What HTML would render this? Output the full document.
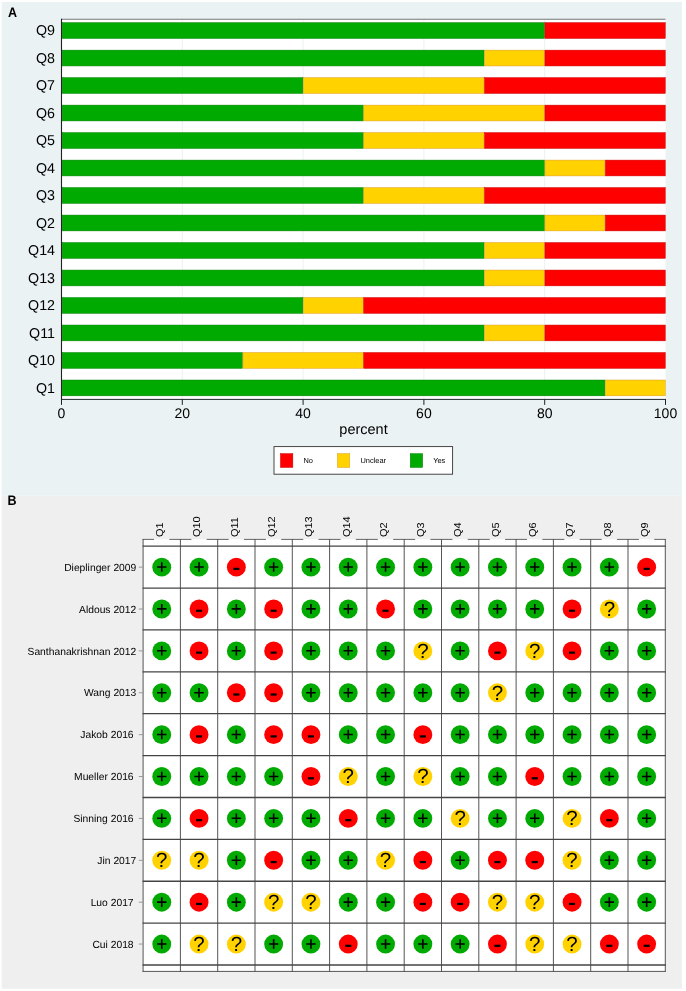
<!DOCTYPE html><html><head><meta charset="utf-8"><title>Figure</title>
<style>html,body{margin:0;padding:0;background:#fff;}body{width:686px;height:991px;overflow:hidden;font-family:"Liberation Sans",sans-serif;}svg{display:block;will-change:transform;}text{font-family:"Liberation Sans",sans-serif;text-rendering:geometricPrecision;}</style></head><body>
<svg width="686" height="991" viewBox="0 0 686 991">
<rect x="0" y="0" width="686" height="991" fill="#ffffff"/>
<rect x="1.7" y="1.9" width="680.2" height="493.8" fill="#eaf2f3"/>
<rect x="1.7" y="495.7" width="680.2" height="493.0" fill="#efefef"/>
<text transform="translate(7.95,16.9) scale(0.93,1.02)" font-size="13.5" font-weight="bold" fill="#000">A</text>
<rect x="61.5" y="19.3" width="604.0" height="380.09999999999997" fill="#ffffff"/>
<line x1="182.30" y1="19.3" x2="182.30" y2="399.4" stroke="#eaf2f3" stroke-width="1"/>
<line x1="303.10" y1="19.3" x2="303.10" y2="399.4" stroke="#eaf2f3" stroke-width="1"/>
<line x1="423.90" y1="19.3" x2="423.90" y2="399.4" stroke="#eaf2f3" stroke-width="1"/>
<line x1="544.70" y1="19.3" x2="544.70" y2="399.4" stroke="#eaf2f3" stroke-width="1"/>
<rect x="62.25" y="22.65" width="482.20" height="15.8" fill="#00aa00" stroke="#008000" stroke-width="0.5"/>
<rect x="544.95" y="22.65" width="120.30" height="15.8" fill="#ff0000" stroke="#c80000" stroke-width="0.5"/>
<text x="55" y="35.30" font-size="14.25" text-anchor="end" fill="#000">Q9</text>
<rect x="62.25" y="50.14" width="421.80" height="15.8" fill="#00aa00" stroke="#008000" stroke-width="0.5"/>
<rect x="484.55" y="50.14" width="59.90" height="15.8" fill="#ffd200" stroke="#dc9c24" stroke-width="0.5"/>
<rect x="544.95" y="50.14" width="120.30" height="15.8" fill="#ff0000" stroke="#c80000" stroke-width="0.5"/>
<text x="55" y="62.79" font-size="14.25" text-anchor="end" fill="#000">Q8</text>
<rect x="62.25" y="77.63" width="240.60" height="15.8" fill="#00aa00" stroke="#008000" stroke-width="0.5"/>
<rect x="303.35" y="77.63" width="180.70" height="15.8" fill="#ffd200" stroke="#dc9c24" stroke-width="0.5"/>
<rect x="484.55" y="77.63" width="180.70" height="15.8" fill="#ff0000" stroke="#c80000" stroke-width="0.5"/>
<text x="55" y="90.28" font-size="14.25" text-anchor="end" fill="#000">Q7</text>
<rect x="62.25" y="105.12" width="301.00" height="15.8" fill="#00aa00" stroke="#008000" stroke-width="0.5"/>
<rect x="363.75" y="105.12" width="180.70" height="15.8" fill="#ffd200" stroke="#dc9c24" stroke-width="0.5"/>
<rect x="544.95" y="105.12" width="120.30" height="15.8" fill="#ff0000" stroke="#c80000" stroke-width="0.5"/>
<text x="55" y="117.77" font-size="14.25" text-anchor="end" fill="#000">Q6</text>
<rect x="62.25" y="132.61" width="301.00" height="15.8" fill="#00aa00" stroke="#008000" stroke-width="0.5"/>
<rect x="363.75" y="132.61" width="120.30" height="15.8" fill="#ffd200" stroke="#dc9c24" stroke-width="0.5"/>
<rect x="484.55" y="132.61" width="180.70" height="15.8" fill="#ff0000" stroke="#c80000" stroke-width="0.5"/>
<text x="55" y="145.26" font-size="14.25" text-anchor="end" fill="#000">Q5</text>
<rect x="62.25" y="160.10" width="482.20" height="15.8" fill="#00aa00" stroke="#008000" stroke-width="0.5"/>
<rect x="544.95" y="160.10" width="59.90" height="15.8" fill="#ffd200" stroke="#dc9c24" stroke-width="0.5"/>
<rect x="605.35" y="160.10" width="59.90" height="15.8" fill="#ff0000" stroke="#c80000" stroke-width="0.5"/>
<text x="55" y="172.75" font-size="14.25" text-anchor="end" fill="#000">Q4</text>
<rect x="62.25" y="187.59" width="301.00" height="15.8" fill="#00aa00" stroke="#008000" stroke-width="0.5"/>
<rect x="363.75" y="187.59" width="120.30" height="15.8" fill="#ffd200" stroke="#dc9c24" stroke-width="0.5"/>
<rect x="484.55" y="187.59" width="180.70" height="15.8" fill="#ff0000" stroke="#c80000" stroke-width="0.5"/>
<text x="55" y="200.24" font-size="14.25" text-anchor="end" fill="#000">Q3</text>
<rect x="62.25" y="215.08" width="482.20" height="15.8" fill="#00aa00" stroke="#008000" stroke-width="0.5"/>
<rect x="544.95" y="215.08" width="59.90" height="15.8" fill="#ffd200" stroke="#dc9c24" stroke-width="0.5"/>
<rect x="605.35" y="215.08" width="59.90" height="15.8" fill="#ff0000" stroke="#c80000" stroke-width="0.5"/>
<text x="55" y="227.73" font-size="14.25" text-anchor="end" fill="#000">Q2</text>
<rect x="62.25" y="242.57" width="421.80" height="15.8" fill="#00aa00" stroke="#008000" stroke-width="0.5"/>
<rect x="484.55" y="242.57" width="59.90" height="15.8" fill="#ffd200" stroke="#dc9c24" stroke-width="0.5"/>
<rect x="544.95" y="242.57" width="120.30" height="15.8" fill="#ff0000" stroke="#c80000" stroke-width="0.5"/>
<text x="55" y="255.22" font-size="14.25" text-anchor="end" fill="#000">Q14</text>
<rect x="62.25" y="270.06" width="421.80" height="15.8" fill="#00aa00" stroke="#008000" stroke-width="0.5"/>
<rect x="484.55" y="270.06" width="59.90" height="15.8" fill="#ffd200" stroke="#dc9c24" stroke-width="0.5"/>
<rect x="544.95" y="270.06" width="120.30" height="15.8" fill="#ff0000" stroke="#c80000" stroke-width="0.5"/>
<text x="55" y="282.71" font-size="14.25" text-anchor="end" fill="#000">Q13</text>
<rect x="62.25" y="297.55" width="240.60" height="15.8" fill="#00aa00" stroke="#008000" stroke-width="0.5"/>
<rect x="303.35" y="297.55" width="59.90" height="15.8" fill="#ffd200" stroke="#dc9c24" stroke-width="0.5"/>
<rect x="363.75" y="297.55" width="301.50" height="15.8" fill="#ff0000" stroke="#c80000" stroke-width="0.5"/>
<text x="55" y="310.20" font-size="14.25" text-anchor="end" fill="#000">Q12</text>
<rect x="62.25" y="325.04" width="421.80" height="15.8" fill="#00aa00" stroke="#008000" stroke-width="0.5"/>
<rect x="484.55" y="325.04" width="59.90" height="15.8" fill="#ffd200" stroke="#dc9c24" stroke-width="0.5"/>
<rect x="544.95" y="325.04" width="120.30" height="15.8" fill="#ff0000" stroke="#c80000" stroke-width="0.5"/>
<text x="55" y="337.69" font-size="14.25" text-anchor="end" fill="#000">Q11</text>
<rect x="62.25" y="352.53" width="180.20" height="15.8" fill="#00aa00" stroke="#008000" stroke-width="0.5"/>
<rect x="242.95" y="352.53" width="120.30" height="15.8" fill="#ffd200" stroke="#dc9c24" stroke-width="0.5"/>
<rect x="363.75" y="352.53" width="301.50" height="15.8" fill="#ff0000" stroke="#c80000" stroke-width="0.5"/>
<text x="55" y="365.18" font-size="14.25" text-anchor="end" fill="#000">Q10</text>
<rect x="62.25" y="380.02" width="542.60" height="15.8" fill="#00aa00" stroke="#008000" stroke-width="0.5"/>
<rect x="605.35" y="380.02" width="59.90" height="15.8" fill="#ffd200" stroke="#dc9c24" stroke-width="0.5"/>
<text x="55" y="392.67" font-size="14.25" text-anchor="end" fill="#000">Q1</text>
<line x1="61.0" y1="19.3" x2="665.5" y2="19.3" stroke="#777" stroke-width="1.1"/>
<line x1="61.5" y1="18.8" x2="61.5" y2="399.9" stroke="#222" stroke-width="1.1"/>
<line x1="61.0" y1="399.4" x2="666.0" y2="399.4" stroke="#1e242c" stroke-width="1.0"/>
<line x1="61.50" y1="399.4" x2="61.50" y2="404.9" stroke="#222" stroke-width="1"/>
<text x="61.50" y="417.9" font-size="14" text-anchor="middle" fill="#000">0</text>
<line x1="182.30" y1="399.4" x2="182.30" y2="404.9" stroke="#222" stroke-width="1"/>
<text x="182.30" y="417.9" font-size="14" text-anchor="middle" fill="#000">20</text>
<line x1="303.10" y1="399.4" x2="303.10" y2="404.9" stroke="#222" stroke-width="1"/>
<text x="303.10" y="417.9" font-size="14" text-anchor="middle" fill="#000">40</text>
<line x1="423.90" y1="399.4" x2="423.90" y2="404.9" stroke="#222" stroke-width="1"/>
<text x="423.90" y="417.9" font-size="14" text-anchor="middle" fill="#000">60</text>
<line x1="544.70" y1="399.4" x2="544.70" y2="404.9" stroke="#222" stroke-width="1"/>
<text x="544.70" y="417.9" font-size="14" text-anchor="middle" fill="#000">80</text>
<line x1="665.50" y1="399.4" x2="665.50" y2="404.9" stroke="#222" stroke-width="1"/>
<text x="665.50" y="417.9" font-size="14" text-anchor="middle" fill="#000">100</text>
<text x="363.5" y="434.2" font-size="14.5" text-anchor="middle" fill="#000">percent</text>
<rect x="274.0" y="446.6" width="178.6" height="27.6" fill="#ffffff" stroke="#333" stroke-width="0.9"/>
<rect x="280.45" y="453.65" width="12.4" height="13.8" fill="#ff0000" stroke="#c80000" stroke-width="0.5"/>
<text x="303.4" y="462.6" font-size="7.45" fill="#000">No</text>
<rect x="337.35" y="453.65" width="12.4" height="13.8" fill="#ffd200" stroke="#dc9c24" stroke-width="0.5"/>
<text x="360.4" y="462.6" font-size="7.45" fill="#000">Unclear</text>
<rect x="410.25" y="453.65" width="12.4" height="13.8" fill="#00aa00" stroke="#008000" stroke-width="0.5"/>
<text x="433.2" y="462.6" font-size="7.45" fill="#000">Yes</text>
<text transform="translate(7.4,505) scale(0.93,1.02)" font-size="13.5" font-weight="bold" fill="#000">B</text>
<rect x="143.1" y="539.4" width="522.1999999999999" height="432.0" fill="#ffffff"/>
<line x1="143.10" y1="539.0" x2="143.10" y2="971.9" stroke="#555" stroke-width="1"/>
<line x1="180.40" y1="539.0" x2="180.40" y2="971.9" stroke="#555" stroke-width="1"/>
<line x1="217.70" y1="539.0" x2="217.70" y2="971.9" stroke="#555" stroke-width="1"/>
<line x1="255.00" y1="539.0" x2="255.00" y2="971.9" stroke="#555" stroke-width="1"/>
<line x1="292.30" y1="539.0" x2="292.30" y2="971.9" stroke="#555" stroke-width="1"/>
<line x1="329.60" y1="539.0" x2="329.60" y2="971.9" stroke="#555" stroke-width="1"/>
<line x1="366.90" y1="539.0" x2="366.90" y2="971.9" stroke="#555" stroke-width="1"/>
<line x1="404.20" y1="539.0" x2="404.20" y2="971.9" stroke="#555" stroke-width="1"/>
<line x1="441.50" y1="539.0" x2="441.50" y2="971.9" stroke="#555" stroke-width="1"/>
<line x1="478.80" y1="539.0" x2="478.80" y2="971.9" stroke="#555" stroke-width="1"/>
<line x1="516.10" y1="539.0" x2="516.10" y2="971.9" stroke="#555" stroke-width="1"/>
<line x1="553.40" y1="539.0" x2="553.40" y2="971.9" stroke="#555" stroke-width="1"/>
<line x1="590.70" y1="539.0" x2="590.70" y2="971.9" stroke="#555" stroke-width="1"/>
<line x1="628.00" y1="539.0" x2="628.00" y2="971.9" stroke="#555" stroke-width="1"/>
<line x1="665.30" y1="539.0" x2="665.30" y2="971.9" stroke="#555" stroke-width="1"/>
<line x1="142.6" y1="546.20" x2="665.8" y2="546.20" stroke="#444" stroke-width="1.3"/>
<line x1="142.6" y1="588.08" x2="665.8" y2="588.08" stroke="#444" stroke-width="1.3"/>
<line x1="142.6" y1="629.96" x2="665.8" y2="629.96" stroke="#444" stroke-width="1.3"/>
<line x1="142.6" y1="671.84" x2="665.8" y2="671.84" stroke="#444" stroke-width="1.3"/>
<line x1="142.6" y1="713.72" x2="665.8" y2="713.72" stroke="#444" stroke-width="1.3"/>
<line x1="142.6" y1="755.60" x2="665.8" y2="755.60" stroke="#444" stroke-width="1.3"/>
<line x1="142.6" y1="797.48" x2="665.8" y2="797.48" stroke="#444" stroke-width="1.3"/>
<line x1="142.6" y1="839.36" x2="665.8" y2="839.36" stroke="#444" stroke-width="1.3"/>
<line x1="142.6" y1="881.24" x2="665.8" y2="881.24" stroke="#444" stroke-width="1.3"/>
<line x1="142.6" y1="923.12" x2="665.8" y2="923.12" stroke="#444" stroke-width="1.3"/>
<line x1="142.6" y1="965.00" x2="665.8" y2="965.00" stroke="#444" stroke-width="1.3"/>
<line x1="142.6" y1="971.4" x2="665.8" y2="971.4" stroke="#555" stroke-width="1"/>
<line x1="142.60" y1="539.4" x2="154.05" y2="539.4" stroke="#555" stroke-width="0.9"/>
<line x1="169.35" y1="539.4" x2="191.35" y2="539.4" stroke="#555" stroke-width="0.9"/>
<line x1="206.65" y1="539.4" x2="228.65" y2="539.4" stroke="#555" stroke-width="0.9"/>
<line x1="243.95" y1="539.4" x2="265.95" y2="539.4" stroke="#555" stroke-width="0.9"/>
<line x1="281.25" y1="539.4" x2="303.25" y2="539.4" stroke="#555" stroke-width="0.9"/>
<line x1="318.55" y1="539.4" x2="340.55" y2="539.4" stroke="#555" stroke-width="0.9"/>
<line x1="355.85" y1="539.4" x2="377.85" y2="539.4" stroke="#555" stroke-width="0.9"/>
<line x1="393.15" y1="539.4" x2="415.15" y2="539.4" stroke="#555" stroke-width="0.9"/>
<line x1="430.45" y1="539.4" x2="452.45" y2="539.4" stroke="#555" stroke-width="0.9"/>
<line x1="467.75" y1="539.4" x2="489.75" y2="539.4" stroke="#555" stroke-width="0.9"/>
<line x1="505.05" y1="539.4" x2="527.05" y2="539.4" stroke="#555" stroke-width="0.9"/>
<line x1="542.35" y1="539.4" x2="564.35" y2="539.4" stroke="#555" stroke-width="0.9"/>
<line x1="579.65" y1="539.4" x2="601.65" y2="539.4" stroke="#555" stroke-width="0.9"/>
<line x1="616.95" y1="539.4" x2="638.95" y2="539.4" stroke="#555" stroke-width="0.9"/>
<line x1="654.25" y1="539.4" x2="665.8" y2="539.4" stroke="#555" stroke-width="0.9"/>
<text transform="translate(163.00,537.0) rotate(-90) scale(1.05,0.97)" font-size="10.4" fill="#000">Q1</text>
<text transform="translate(200.30,537.0) rotate(-90) scale(1.05,0.97)" font-size="10.4" fill="#000">Q10</text>
<text transform="translate(237.60,537.0) rotate(-90) scale(1.05,0.97)" font-size="10.4" fill="#000">Q11</text>
<text transform="translate(274.90,537.0) rotate(-90) scale(1.05,0.97)" font-size="10.4" fill="#000">Q12</text>
<text transform="translate(312.20,537.0) rotate(-90) scale(1.05,0.97)" font-size="10.4" fill="#000">Q13</text>
<text transform="translate(349.50,537.0) rotate(-90) scale(1.05,0.97)" font-size="10.4" fill="#000">Q14</text>
<text transform="translate(386.80,537.0) rotate(-90) scale(1.05,0.97)" font-size="10.4" fill="#000">Q2</text>
<text transform="translate(424.10,537.0) rotate(-90) scale(1.05,0.97)" font-size="10.4" fill="#000">Q3</text>
<text transform="translate(461.40,537.0) rotate(-90) scale(1.05,0.97)" font-size="10.4" fill="#000">Q4</text>
<text transform="translate(498.70,537.0) rotate(-90) scale(1.05,0.97)" font-size="10.4" fill="#000">Q5</text>
<text transform="translate(536.00,537.0) rotate(-90) scale(1.05,0.97)" font-size="10.4" fill="#000">Q6</text>
<text transform="translate(573.30,537.0) rotate(-90) scale(1.05,0.97)" font-size="10.4" fill="#000">Q7</text>
<text transform="translate(610.60,537.0) rotate(-90) scale(1.05,0.97)" font-size="10.4" fill="#000">Q8</text>
<text transform="translate(647.90,537.0) rotate(-90) scale(1.05,0.97)" font-size="10.4" fill="#000">Q9</text>
<text x="136.3" y="570.84" font-size="10.3" text-anchor="end" fill="#000">Dieplinger 2009</text>
<line x1="138.8" y1="567.14" x2="143.1" y2="567.14" stroke="#999" stroke-width="1"/>
<circle cx="161.75" cy="567.14" r="9.45" fill="#00aa00"/>
<path d="M157.05 567.04H166.45M161.75 562.24V571.84" stroke="#000" stroke-width="1.6" fill="none"/>
<circle cx="199.05" cy="567.14" r="9.45" fill="#00aa00"/>
<path d="M194.35 567.04H203.75M199.05 562.24V571.84" stroke="#000" stroke-width="1.6" fill="none"/>
<circle cx="236.35" cy="567.14" r="9.45" fill="#ff0000"/>
<rect x="233.30" y="567.79" width="6.1" height="2.2" fill="#000"/>
<circle cx="273.65" cy="567.14" r="9.45" fill="#00aa00"/>
<path d="M268.95 567.04H278.35M273.65 562.24V571.84" stroke="#000" stroke-width="1.6" fill="none"/>
<circle cx="310.95" cy="567.14" r="9.45" fill="#00aa00"/>
<path d="M306.25 567.04H315.65M310.95 562.24V571.84" stroke="#000" stroke-width="1.6" fill="none"/>
<circle cx="348.25" cy="567.14" r="9.45" fill="#00aa00"/>
<path d="M343.55 567.04H352.95M348.25 562.24V571.84" stroke="#000" stroke-width="1.6" fill="none"/>
<circle cx="385.55" cy="567.14" r="9.45" fill="#00aa00"/>
<path d="M380.85 567.04H390.25M385.55 562.24V571.84" stroke="#000" stroke-width="1.6" fill="none"/>
<circle cx="422.85" cy="567.14" r="9.45" fill="#00aa00"/>
<path d="M418.15 567.04H427.55M422.85 562.24V571.84" stroke="#000" stroke-width="1.6" fill="none"/>
<circle cx="460.15" cy="567.14" r="9.45" fill="#00aa00"/>
<path d="M455.45 567.04H464.85M460.15 562.24V571.84" stroke="#000" stroke-width="1.6" fill="none"/>
<circle cx="497.45" cy="567.14" r="9.45" fill="#00aa00"/>
<path d="M492.75 567.04H502.15M497.45 562.24V571.84" stroke="#000" stroke-width="1.6" fill="none"/>
<circle cx="534.75" cy="567.14" r="9.45" fill="#00aa00"/>
<path d="M530.05 567.04H539.45M534.75 562.24V571.84" stroke="#000" stroke-width="1.6" fill="none"/>
<circle cx="572.05" cy="567.14" r="9.45" fill="#00aa00"/>
<path d="M567.35 567.04H576.75M572.05 562.24V571.84" stroke="#000" stroke-width="1.6" fill="none"/>
<circle cx="609.35" cy="567.14" r="9.45" fill="#00aa00"/>
<path d="M604.65 567.04H614.05M609.35 562.24V571.84" stroke="#000" stroke-width="1.6" fill="none"/>
<circle cx="646.65" cy="567.14" r="9.45" fill="#ff0000"/>
<rect x="643.60" y="567.79" width="6.1" height="2.2" fill="#000"/>
<text x="136.3" y="612.72" font-size="10.3" text-anchor="end" fill="#000">Aldous 2012</text>
<line x1="138.8" y1="609.02" x2="143.1" y2="609.02" stroke="#999" stroke-width="1"/>
<circle cx="161.75" cy="609.02" r="9.45" fill="#00aa00"/>
<path d="M157.05 608.92H166.45M161.75 604.12V613.72" stroke="#000" stroke-width="1.6" fill="none"/>
<circle cx="199.05" cy="609.02" r="9.45" fill="#ff0000"/>
<rect x="196.00" y="609.67" width="6.1" height="2.2" fill="#000"/>
<circle cx="236.35" cy="609.02" r="9.45" fill="#00aa00"/>
<path d="M231.65 608.92H241.05M236.35 604.12V613.72" stroke="#000" stroke-width="1.6" fill="none"/>
<circle cx="273.65" cy="609.02" r="9.45" fill="#ff0000"/>
<rect x="270.60" y="609.67" width="6.1" height="2.2" fill="#000"/>
<circle cx="310.95" cy="609.02" r="9.45" fill="#00aa00"/>
<path d="M306.25 608.92H315.65M310.95 604.12V613.72" stroke="#000" stroke-width="1.6" fill="none"/>
<circle cx="348.25" cy="609.02" r="9.45" fill="#00aa00"/>
<path d="M343.55 608.92H352.95M348.25 604.12V613.72" stroke="#000" stroke-width="1.6" fill="none"/>
<circle cx="385.55" cy="609.02" r="9.45" fill="#ff0000"/>
<rect x="382.50" y="609.67" width="6.1" height="2.2" fill="#000"/>
<circle cx="422.85" cy="609.02" r="9.45" fill="#00aa00"/>
<path d="M418.15 608.92H427.55M422.85 604.12V613.72" stroke="#000" stroke-width="1.6" fill="none"/>
<circle cx="460.15" cy="609.02" r="9.45" fill="#00aa00"/>
<path d="M455.45 608.92H464.85M460.15 604.12V613.72" stroke="#000" stroke-width="1.6" fill="none"/>
<circle cx="497.45" cy="609.02" r="9.45" fill="#00aa00"/>
<path d="M492.75 608.92H502.15M497.45 604.12V613.72" stroke="#000" stroke-width="1.6" fill="none"/>
<circle cx="534.75" cy="609.02" r="9.45" fill="#00aa00"/>
<path d="M530.05 608.92H539.45M534.75 604.12V613.72" stroke="#000" stroke-width="1.6" fill="none"/>
<circle cx="572.05" cy="609.02" r="9.45" fill="#ff0000"/>
<rect x="569.00" y="609.67" width="6.1" height="2.2" fill="#000"/>
<circle cx="609.35" cy="609.02" r="9.45" fill="#ffd200"/>
<text x="609.35" y="615.97" font-size="20.5" text-anchor="middle" fill="#000">?</text>
<circle cx="646.65" cy="609.02" r="9.45" fill="#00aa00"/>
<path d="M641.95 608.92H651.35M646.65 604.12V613.72" stroke="#000" stroke-width="1.6" fill="none"/>
<text x="136.3" y="654.60" font-size="10.3" text-anchor="end" fill="#000">Santhanakrishnan 2012</text>
<line x1="138.8" y1="650.90" x2="143.1" y2="650.90" stroke="#999" stroke-width="1"/>
<circle cx="161.75" cy="650.90" r="9.45" fill="#00aa00"/>
<path d="M157.05 650.80H166.45M161.75 646.00V655.60" stroke="#000" stroke-width="1.6" fill="none"/>
<circle cx="199.05" cy="650.90" r="9.45" fill="#ff0000"/>
<rect x="196.00" y="651.55" width="6.1" height="2.2" fill="#000"/>
<circle cx="236.35" cy="650.90" r="9.45" fill="#00aa00"/>
<path d="M231.65 650.80H241.05M236.35 646.00V655.60" stroke="#000" stroke-width="1.6" fill="none"/>
<circle cx="273.65" cy="650.90" r="9.45" fill="#ff0000"/>
<rect x="270.60" y="651.55" width="6.1" height="2.2" fill="#000"/>
<circle cx="310.95" cy="650.90" r="9.45" fill="#00aa00"/>
<path d="M306.25 650.80H315.65M310.95 646.00V655.60" stroke="#000" stroke-width="1.6" fill="none"/>
<circle cx="348.25" cy="650.90" r="9.45" fill="#00aa00"/>
<path d="M343.55 650.80H352.95M348.25 646.00V655.60" stroke="#000" stroke-width="1.6" fill="none"/>
<circle cx="385.55" cy="650.90" r="9.45" fill="#00aa00"/>
<path d="M380.85 650.80H390.25M385.55 646.00V655.60" stroke="#000" stroke-width="1.6" fill="none"/>
<circle cx="422.85" cy="650.90" r="9.45" fill="#ffd200"/>
<text x="422.85" y="657.85" font-size="20.5" text-anchor="middle" fill="#000">?</text>
<circle cx="460.15" cy="650.90" r="9.45" fill="#00aa00"/>
<path d="M455.45 650.80H464.85M460.15 646.00V655.60" stroke="#000" stroke-width="1.6" fill="none"/>
<circle cx="497.45" cy="650.90" r="9.45" fill="#ff0000"/>
<rect x="494.40" y="651.55" width="6.1" height="2.2" fill="#000"/>
<circle cx="534.75" cy="650.90" r="9.45" fill="#ffd200"/>
<text x="534.75" y="657.85" font-size="20.5" text-anchor="middle" fill="#000">?</text>
<circle cx="572.05" cy="650.90" r="9.45" fill="#ff0000"/>
<rect x="569.00" y="651.55" width="6.1" height="2.2" fill="#000"/>
<circle cx="609.35" cy="650.90" r="9.45" fill="#00aa00"/>
<path d="M604.65 650.80H614.05M609.35 646.00V655.60" stroke="#000" stroke-width="1.6" fill="none"/>
<circle cx="646.65" cy="650.90" r="9.45" fill="#00aa00"/>
<path d="M641.95 650.80H651.35M646.65 646.00V655.60" stroke="#000" stroke-width="1.6" fill="none"/>
<text x="136.3" y="696.48" font-size="10.3" text-anchor="end" fill="#000">Wang 2013</text>
<line x1="138.8" y1="692.78" x2="143.1" y2="692.78" stroke="#999" stroke-width="1"/>
<circle cx="161.75" cy="692.78" r="9.45" fill="#00aa00"/>
<path d="M157.05 692.68H166.45M161.75 687.88V697.48" stroke="#000" stroke-width="1.6" fill="none"/>
<circle cx="199.05" cy="692.78" r="9.45" fill="#00aa00"/>
<path d="M194.35 692.68H203.75M199.05 687.88V697.48" stroke="#000" stroke-width="1.6" fill="none"/>
<circle cx="236.35" cy="692.78" r="9.45" fill="#ff0000"/>
<rect x="233.30" y="693.43" width="6.1" height="2.2" fill="#000"/>
<circle cx="273.65" cy="692.78" r="9.45" fill="#ff0000"/>
<rect x="270.60" y="693.43" width="6.1" height="2.2" fill="#000"/>
<circle cx="310.95" cy="692.78" r="9.45" fill="#00aa00"/>
<path d="M306.25 692.68H315.65M310.95 687.88V697.48" stroke="#000" stroke-width="1.6" fill="none"/>
<circle cx="348.25" cy="692.78" r="9.45" fill="#00aa00"/>
<path d="M343.55 692.68H352.95M348.25 687.88V697.48" stroke="#000" stroke-width="1.6" fill="none"/>
<circle cx="385.55" cy="692.78" r="9.45" fill="#00aa00"/>
<path d="M380.85 692.68H390.25M385.55 687.88V697.48" stroke="#000" stroke-width="1.6" fill="none"/>
<circle cx="422.85" cy="692.78" r="9.45" fill="#00aa00"/>
<path d="M418.15 692.68H427.55M422.85 687.88V697.48" stroke="#000" stroke-width="1.6" fill="none"/>
<circle cx="460.15" cy="692.78" r="9.45" fill="#00aa00"/>
<path d="M455.45 692.68H464.85M460.15 687.88V697.48" stroke="#000" stroke-width="1.6" fill="none"/>
<circle cx="497.45" cy="692.78" r="9.45" fill="#ffd200"/>
<text x="497.45" y="699.73" font-size="20.5" text-anchor="middle" fill="#000">?</text>
<circle cx="534.75" cy="692.78" r="9.45" fill="#00aa00"/>
<path d="M530.05 692.68H539.45M534.75 687.88V697.48" stroke="#000" stroke-width="1.6" fill="none"/>
<circle cx="572.05" cy="692.78" r="9.45" fill="#00aa00"/>
<path d="M567.35 692.68H576.75M572.05 687.88V697.48" stroke="#000" stroke-width="1.6" fill="none"/>
<circle cx="609.35" cy="692.78" r="9.45" fill="#00aa00"/>
<path d="M604.65 692.68H614.05M609.35 687.88V697.48" stroke="#000" stroke-width="1.6" fill="none"/>
<circle cx="646.65" cy="692.78" r="9.45" fill="#00aa00"/>
<path d="M641.95 692.68H651.35M646.65 687.88V697.48" stroke="#000" stroke-width="1.6" fill="none"/>
<text x="133.6" y="738.36" font-size="10.3" text-anchor="end" fill="#000">Jakob 2016</text>
<line x1="138.8" y1="734.66" x2="143.1" y2="734.66" stroke="#999" stroke-width="1"/>
<circle cx="161.75" cy="734.66" r="9.45" fill="#00aa00"/>
<path d="M157.05 734.56H166.45M161.75 729.76V739.36" stroke="#000" stroke-width="1.6" fill="none"/>
<circle cx="199.05" cy="734.66" r="9.45" fill="#ff0000"/>
<rect x="196.00" y="735.31" width="6.1" height="2.2" fill="#000"/>
<circle cx="236.35" cy="734.66" r="9.45" fill="#00aa00"/>
<path d="M231.65 734.56H241.05M236.35 729.76V739.36" stroke="#000" stroke-width="1.6" fill="none"/>
<circle cx="273.65" cy="734.66" r="9.45" fill="#ff0000"/>
<rect x="270.60" y="735.31" width="6.1" height="2.2" fill="#000"/>
<circle cx="310.95" cy="734.66" r="9.45" fill="#ff0000"/>
<rect x="307.90" y="735.31" width="6.1" height="2.2" fill="#000"/>
<circle cx="348.25" cy="734.66" r="9.45" fill="#00aa00"/>
<path d="M343.55 734.56H352.95M348.25 729.76V739.36" stroke="#000" stroke-width="1.6" fill="none"/>
<circle cx="385.55" cy="734.66" r="9.45" fill="#00aa00"/>
<path d="M380.85 734.56H390.25M385.55 729.76V739.36" stroke="#000" stroke-width="1.6" fill="none"/>
<circle cx="422.85" cy="734.66" r="9.45" fill="#ff0000"/>
<rect x="419.80" y="735.31" width="6.1" height="2.2" fill="#000"/>
<circle cx="460.15" cy="734.66" r="9.45" fill="#00aa00"/>
<path d="M455.45 734.56H464.85M460.15 729.76V739.36" stroke="#000" stroke-width="1.6" fill="none"/>
<circle cx="497.45" cy="734.66" r="9.45" fill="#00aa00"/>
<path d="M492.75 734.56H502.15M497.45 729.76V739.36" stroke="#000" stroke-width="1.6" fill="none"/>
<circle cx="534.75" cy="734.66" r="9.45" fill="#00aa00"/>
<path d="M530.05 734.56H539.45M534.75 729.76V739.36" stroke="#000" stroke-width="1.6" fill="none"/>
<circle cx="572.05" cy="734.66" r="9.45" fill="#00aa00"/>
<path d="M567.35 734.56H576.75M572.05 729.76V739.36" stroke="#000" stroke-width="1.6" fill="none"/>
<circle cx="609.35" cy="734.66" r="9.45" fill="#00aa00"/>
<path d="M604.65 734.56H614.05M609.35 729.76V739.36" stroke="#000" stroke-width="1.6" fill="none"/>
<circle cx="646.65" cy="734.66" r="9.45" fill="#00aa00"/>
<path d="M641.95 734.56H651.35M646.65 729.76V739.36" stroke="#000" stroke-width="1.6" fill="none"/>
<text x="133.6" y="780.24" font-size="10.3" text-anchor="end" fill="#000">Mueller 2016</text>
<line x1="138.8" y1="776.54" x2="143.1" y2="776.54" stroke="#999" stroke-width="1"/>
<circle cx="161.75" cy="776.54" r="9.45" fill="#00aa00"/>
<path d="M157.05 776.44H166.45M161.75 771.64V781.24" stroke="#000" stroke-width="1.6" fill="none"/>
<circle cx="199.05" cy="776.54" r="9.45" fill="#00aa00"/>
<path d="M194.35 776.44H203.75M199.05 771.64V781.24" stroke="#000" stroke-width="1.6" fill="none"/>
<circle cx="236.35" cy="776.54" r="9.45" fill="#00aa00"/>
<path d="M231.65 776.44H241.05M236.35 771.64V781.24" stroke="#000" stroke-width="1.6" fill="none"/>
<circle cx="273.65" cy="776.54" r="9.45" fill="#00aa00"/>
<path d="M268.95 776.44H278.35M273.65 771.64V781.24" stroke="#000" stroke-width="1.6" fill="none"/>
<circle cx="310.95" cy="776.54" r="9.45" fill="#ff0000"/>
<rect x="307.90" y="777.19" width="6.1" height="2.2" fill="#000"/>
<circle cx="348.25" cy="776.54" r="9.45" fill="#ffd200"/>
<text x="348.25" y="783.49" font-size="20.5" text-anchor="middle" fill="#000">?</text>
<circle cx="385.55" cy="776.54" r="9.45" fill="#00aa00"/>
<path d="M380.85 776.44H390.25M385.55 771.64V781.24" stroke="#000" stroke-width="1.6" fill="none"/>
<circle cx="422.85" cy="776.54" r="9.45" fill="#ffd200"/>
<text x="422.85" y="783.49" font-size="20.5" text-anchor="middle" fill="#000">?</text>
<circle cx="460.15" cy="776.54" r="9.45" fill="#00aa00"/>
<path d="M455.45 776.44H464.85M460.15 771.64V781.24" stroke="#000" stroke-width="1.6" fill="none"/>
<circle cx="497.45" cy="776.54" r="9.45" fill="#00aa00"/>
<path d="M492.75 776.44H502.15M497.45 771.64V781.24" stroke="#000" stroke-width="1.6" fill="none"/>
<circle cx="534.75" cy="776.54" r="9.45" fill="#ff0000"/>
<rect x="531.70" y="777.19" width="6.1" height="2.2" fill="#000"/>
<circle cx="572.05" cy="776.54" r="9.45" fill="#00aa00"/>
<path d="M567.35 776.44H576.75M572.05 771.64V781.24" stroke="#000" stroke-width="1.6" fill="none"/>
<circle cx="609.35" cy="776.54" r="9.45" fill="#00aa00"/>
<path d="M604.65 776.44H614.05M609.35 771.64V781.24" stroke="#000" stroke-width="1.6" fill="none"/>
<circle cx="646.65" cy="776.54" r="9.45" fill="#00aa00"/>
<path d="M641.95 776.44H651.35M646.65 771.64V781.24" stroke="#000" stroke-width="1.6" fill="none"/>
<text x="133.6" y="822.12" font-size="10.3" text-anchor="end" fill="#000">Sinning 2016</text>
<line x1="138.8" y1="818.42" x2="143.1" y2="818.42" stroke="#999" stroke-width="1"/>
<circle cx="161.75" cy="818.42" r="9.45" fill="#00aa00"/>
<path d="M157.05 818.32H166.45M161.75 813.52V823.12" stroke="#000" stroke-width="1.6" fill="none"/>
<circle cx="199.05" cy="818.42" r="9.45" fill="#ff0000"/>
<rect x="196.00" y="819.07" width="6.1" height="2.2" fill="#000"/>
<circle cx="236.35" cy="818.42" r="9.45" fill="#00aa00"/>
<path d="M231.65 818.32H241.05M236.35 813.52V823.12" stroke="#000" stroke-width="1.6" fill="none"/>
<circle cx="273.65" cy="818.42" r="9.45" fill="#00aa00"/>
<path d="M268.95 818.32H278.35M273.65 813.52V823.12" stroke="#000" stroke-width="1.6" fill="none"/>
<circle cx="310.95" cy="818.42" r="9.45" fill="#00aa00"/>
<path d="M306.25 818.32H315.65M310.95 813.52V823.12" stroke="#000" stroke-width="1.6" fill="none"/>
<circle cx="348.25" cy="818.42" r="9.45" fill="#ff0000"/>
<rect x="345.20" y="819.07" width="6.1" height="2.2" fill="#000"/>
<circle cx="385.55" cy="818.42" r="9.45" fill="#00aa00"/>
<path d="M380.85 818.32H390.25M385.55 813.52V823.12" stroke="#000" stroke-width="1.6" fill="none"/>
<circle cx="422.85" cy="818.42" r="9.45" fill="#00aa00"/>
<path d="M418.15 818.32H427.55M422.85 813.52V823.12" stroke="#000" stroke-width="1.6" fill="none"/>
<circle cx="460.15" cy="818.42" r="9.45" fill="#ffd200"/>
<text x="460.15" y="825.37" font-size="20.5" text-anchor="middle" fill="#000">?</text>
<circle cx="497.45" cy="818.42" r="9.45" fill="#00aa00"/>
<path d="M492.75 818.32H502.15M497.45 813.52V823.12" stroke="#000" stroke-width="1.6" fill="none"/>
<circle cx="534.75" cy="818.42" r="9.45" fill="#00aa00"/>
<path d="M530.05 818.32H539.45M534.75 813.52V823.12" stroke="#000" stroke-width="1.6" fill="none"/>
<circle cx="572.05" cy="818.42" r="9.45" fill="#ffd200"/>
<text x="572.05" y="825.37" font-size="20.5" text-anchor="middle" fill="#000">?</text>
<circle cx="609.35" cy="818.42" r="9.45" fill="#ff0000"/>
<rect x="606.30" y="819.07" width="6.1" height="2.2" fill="#000"/>
<circle cx="646.65" cy="818.42" r="9.45" fill="#00aa00"/>
<path d="M641.95 818.32H651.35M646.65 813.52V823.12" stroke="#000" stroke-width="1.6" fill="none"/>
<text x="136.3" y="864.00" font-size="10.3" text-anchor="end" fill="#000">Jin 2017</text>
<line x1="138.8" y1="860.30" x2="143.1" y2="860.30" stroke="#999" stroke-width="1"/>
<circle cx="161.75" cy="860.30" r="9.45" fill="#ffd200"/>
<text x="161.75" y="867.25" font-size="20.5" text-anchor="middle" fill="#000">?</text>
<circle cx="199.05" cy="860.30" r="9.45" fill="#ffd200"/>
<text x="199.05" y="867.25" font-size="20.5" text-anchor="middle" fill="#000">?</text>
<circle cx="236.35" cy="860.30" r="9.45" fill="#00aa00"/>
<path d="M231.65 860.20H241.05M236.35 855.40V865.00" stroke="#000" stroke-width="1.6" fill="none"/>
<circle cx="273.65" cy="860.30" r="9.45" fill="#ff0000"/>
<rect x="270.60" y="860.95" width="6.1" height="2.2" fill="#000"/>
<circle cx="310.95" cy="860.30" r="9.45" fill="#00aa00"/>
<path d="M306.25 860.20H315.65M310.95 855.40V865.00" stroke="#000" stroke-width="1.6" fill="none"/>
<circle cx="348.25" cy="860.30" r="9.45" fill="#00aa00"/>
<path d="M343.55 860.20H352.95M348.25 855.40V865.00" stroke="#000" stroke-width="1.6" fill="none"/>
<circle cx="385.55" cy="860.30" r="9.45" fill="#ffd200"/>
<text x="385.55" y="867.25" font-size="20.5" text-anchor="middle" fill="#000">?</text>
<circle cx="422.85" cy="860.30" r="9.45" fill="#ff0000"/>
<rect x="419.80" y="860.95" width="6.1" height="2.2" fill="#000"/>
<circle cx="460.15" cy="860.30" r="9.45" fill="#00aa00"/>
<path d="M455.45 860.20H464.85M460.15 855.40V865.00" stroke="#000" stroke-width="1.6" fill="none"/>
<circle cx="497.45" cy="860.30" r="9.45" fill="#ff0000"/>
<rect x="494.40" y="860.95" width="6.1" height="2.2" fill="#000"/>
<circle cx="534.75" cy="860.30" r="9.45" fill="#ff0000"/>
<rect x="531.70" y="860.95" width="6.1" height="2.2" fill="#000"/>
<circle cx="572.05" cy="860.30" r="9.45" fill="#ffd200"/>
<text x="572.05" y="867.25" font-size="20.5" text-anchor="middle" fill="#000">?</text>
<circle cx="609.35" cy="860.30" r="9.45" fill="#00aa00"/>
<path d="M604.65 860.20H614.05M609.35 855.40V865.00" stroke="#000" stroke-width="1.6" fill="none"/>
<circle cx="646.65" cy="860.30" r="9.45" fill="#00aa00"/>
<path d="M641.95 860.20H651.35M646.65 855.40V865.00" stroke="#000" stroke-width="1.6" fill="none"/>
<text x="133.6" y="905.88" font-size="10.3" text-anchor="end" fill="#000">Luo 2017</text>
<line x1="138.8" y1="902.18" x2="143.1" y2="902.18" stroke="#999" stroke-width="1"/>
<circle cx="161.75" cy="902.18" r="9.45" fill="#00aa00"/>
<path d="M157.05 902.08H166.45M161.75 897.28V906.88" stroke="#000" stroke-width="1.6" fill="none"/>
<circle cx="199.05" cy="902.18" r="9.45" fill="#ff0000"/>
<rect x="196.00" y="902.83" width="6.1" height="2.2" fill="#000"/>
<circle cx="236.35" cy="902.18" r="9.45" fill="#00aa00"/>
<path d="M231.65 902.08H241.05M236.35 897.28V906.88" stroke="#000" stroke-width="1.6" fill="none"/>
<circle cx="273.65" cy="902.18" r="9.45" fill="#ffd200"/>
<text x="273.65" y="909.13" font-size="20.5" text-anchor="middle" fill="#000">?</text>
<circle cx="310.95" cy="902.18" r="9.45" fill="#ffd200"/>
<text x="310.95" y="909.13" font-size="20.5" text-anchor="middle" fill="#000">?</text>
<circle cx="348.25" cy="902.18" r="9.45" fill="#00aa00"/>
<path d="M343.55 902.08H352.95M348.25 897.28V906.88" stroke="#000" stroke-width="1.6" fill="none"/>
<circle cx="385.55" cy="902.18" r="9.45" fill="#00aa00"/>
<path d="M380.85 902.08H390.25M385.55 897.28V906.88" stroke="#000" stroke-width="1.6" fill="none"/>
<circle cx="422.85" cy="902.18" r="9.45" fill="#ff0000"/>
<rect x="419.80" y="902.83" width="6.1" height="2.2" fill="#000"/>
<circle cx="460.15" cy="902.18" r="9.45" fill="#ff0000"/>
<rect x="457.10" y="902.83" width="6.1" height="2.2" fill="#000"/>
<circle cx="497.45" cy="902.18" r="9.45" fill="#ffd200"/>
<text x="497.45" y="909.13" font-size="20.5" text-anchor="middle" fill="#000">?</text>
<circle cx="534.75" cy="902.18" r="9.45" fill="#ffd200"/>
<text x="534.75" y="909.13" font-size="20.5" text-anchor="middle" fill="#000">?</text>
<circle cx="572.05" cy="902.18" r="9.45" fill="#ff0000"/>
<rect x="569.00" y="902.83" width="6.1" height="2.2" fill="#000"/>
<circle cx="609.35" cy="902.18" r="9.45" fill="#00aa00"/>
<path d="M604.65 902.08H614.05M609.35 897.28V906.88" stroke="#000" stroke-width="1.6" fill="none"/>
<circle cx="646.65" cy="902.18" r="9.45" fill="#00aa00"/>
<path d="M641.95 902.08H651.35M646.65 897.28V906.88" stroke="#000" stroke-width="1.6" fill="none"/>
<text x="133.6" y="947.76" font-size="10.3" text-anchor="end" fill="#000">Cui 2018</text>
<line x1="138.8" y1="944.06" x2="143.1" y2="944.06" stroke="#999" stroke-width="1"/>
<circle cx="161.75" cy="944.06" r="9.45" fill="#00aa00"/>
<path d="M157.05 943.96H166.45M161.75 939.16V948.76" stroke="#000" stroke-width="1.6" fill="none"/>
<circle cx="199.05" cy="944.06" r="9.45" fill="#ffd200"/>
<text x="199.05" y="951.01" font-size="20.5" text-anchor="middle" fill="#000">?</text>
<circle cx="236.35" cy="944.06" r="9.45" fill="#ffd200"/>
<text x="236.35" y="951.01" font-size="20.5" text-anchor="middle" fill="#000">?</text>
<circle cx="273.65" cy="944.06" r="9.45" fill="#00aa00"/>
<path d="M268.95 943.96H278.35M273.65 939.16V948.76" stroke="#000" stroke-width="1.6" fill="none"/>
<circle cx="310.95" cy="944.06" r="9.45" fill="#00aa00"/>
<path d="M306.25 943.96H315.65M310.95 939.16V948.76" stroke="#000" stroke-width="1.6" fill="none"/>
<circle cx="348.25" cy="944.06" r="9.45" fill="#ff0000"/>
<rect x="345.20" y="944.71" width="6.1" height="2.2" fill="#000"/>
<circle cx="385.55" cy="944.06" r="9.45" fill="#00aa00"/>
<path d="M380.85 943.96H390.25M385.55 939.16V948.76" stroke="#000" stroke-width="1.6" fill="none"/>
<circle cx="422.85" cy="944.06" r="9.45" fill="#00aa00"/>
<path d="M418.15 943.96H427.55M422.85 939.16V948.76" stroke="#000" stroke-width="1.6" fill="none"/>
<circle cx="460.15" cy="944.06" r="9.45" fill="#00aa00"/>
<path d="M455.45 943.96H464.85M460.15 939.16V948.76" stroke="#000" stroke-width="1.6" fill="none"/>
<circle cx="497.45" cy="944.06" r="9.45" fill="#ff0000"/>
<rect x="494.40" y="944.71" width="6.1" height="2.2" fill="#000"/>
<circle cx="534.75" cy="944.06" r="9.45" fill="#ffd200"/>
<text x="534.75" y="951.01" font-size="20.5" text-anchor="middle" fill="#000">?</text>
<circle cx="572.05" cy="944.06" r="9.45" fill="#ffd200"/>
<text x="572.05" y="951.01" font-size="20.5" text-anchor="middle" fill="#000">?</text>
<circle cx="609.35" cy="944.06" r="9.45" fill="#ff0000"/>
<rect x="606.30" y="944.71" width="6.1" height="2.2" fill="#000"/>
<circle cx="646.65" cy="944.06" r="9.45" fill="#ff0000"/>
<rect x="643.60" y="944.71" width="6.1" height="2.2" fill="#000"/>
</svg></body></html>
